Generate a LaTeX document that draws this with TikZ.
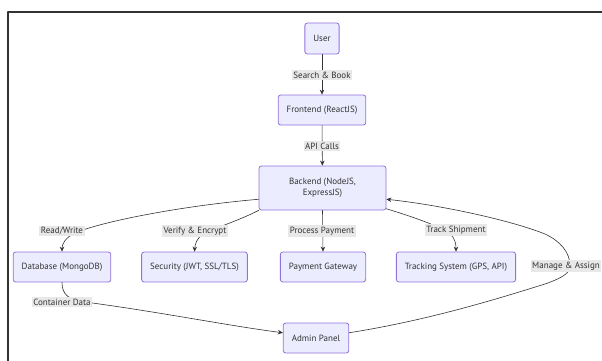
\documentclass[tikz,border=0pt]{standalone}
\usepackage{fontspec}
\setmainfont{PT Sans}
\usetikzlibrary{arrows.meta}
\definecolor{boxfill}{HTML}{ECECFF}
\definecolor{boxline}{HTML}{9370DB}
\definecolor{lblfill}{HTML}{E8E8E8}
\definecolor{ink}{HTML}{333333}
\begin{document}
\begin{tikzpicture}[x=1pt,y=-1pt,>={Stealth[length=5pt,width=4.5pt]},line join=round,line cap=round,font=\fontsize{9}{11}\selectfont,
	box/.style={draw=boxline,fill=boxfill,rounded corners=2.5pt,minimum height=30pt,inner xsep=8.5pt,text=ink,line width=0.8pt},
	lbl/.style={fill=lblfill,inner sep=1.5pt,text=ink},
	edge/.style={->,draw=ink,line width=0.6pt}]
	\useasboundingbox (0,0) rectangle (602,361);
	\draw[line width=1.6pt,black!80] (8,361)--(8,12)--(602,12);
	% boxes
	\node[box,minimum width=34pt,minimum height=31pt] (user) at (322,38.5) {User};
	\node[box] (front) at (322,110) {Frontend (ReactJS)};
	\node[box,align=center,minimum width=127pt,minimum height=44pt] (back) at (322.5,188) {Backend (NodeJS,\\ExpressJS)};
	\node[box] (db) at (62,267) {Database (MongoDB)};
	\node[box] (sec) at (194.5,267) {Security (JWT, SSL/TLS)};
	\node[box] (pay) at (323,267) {Payment Gateway};
	\node[box] (trk) at (456,267) {Tracking System (GPS, API)};
	\node[box] (admin) at (316,338) {Admin Panel};
	% connectors
	\draw[edge] (user)--(front);
	\draw[edge] (front)--(back);
	\draw[edge] (back.190) .. controls (180,206) and (100,222) .. (75,233) .. controls (65,238) and (62,244) .. (db.north);
	\draw[edge] (back.south west) .. controls (240,220) and (215,228) .. (203,234) .. controls (197,238) and (195,244) .. (sec.north);
	\draw[edge] (back.south)--(pay.north);
	\draw[edge] (back.-18) .. controls (410,216) and (440,226) .. (450,234) .. controls (455,238) and (456,244) .. (trk.north);
	\draw[edge] (db.south) .. controls (62,294) and (68,300) .. (85,302) .. controls (160,312) and (230,326) .. (admin.171);
	\draw[edge] (admin.9) .. controls (430,320) and (500,298) .. (545,284) .. controls (565,277) and (570,272) .. (570,266)
		.. controls (570,252) and (560,241) .. (545,234) .. controls (510,220) and (440,205) .. (back.-10);
	% labels
	\node[lbl] (lsb) at (322,75) {Search \& Book};
	\node[lbl] (lapi) at (322,146) {API Calls};
	\node[lbl] (lrw) at (62,231) {Read/Write};
	\node[lbl] (lve) at (195,231) {Verify \& Encrypt};
	\node[lbl] (lpp) at (322,231) {Process Payment};
	\node[lbl] (lts) at (456,230) {Track Shipment};
	\node[lbl] (lcd) at (62,302) {Container Data};
	\node[lbl] (lma) at (566,266) {Manage \& Assign};
\end{tikzpicture}
\end{document}
